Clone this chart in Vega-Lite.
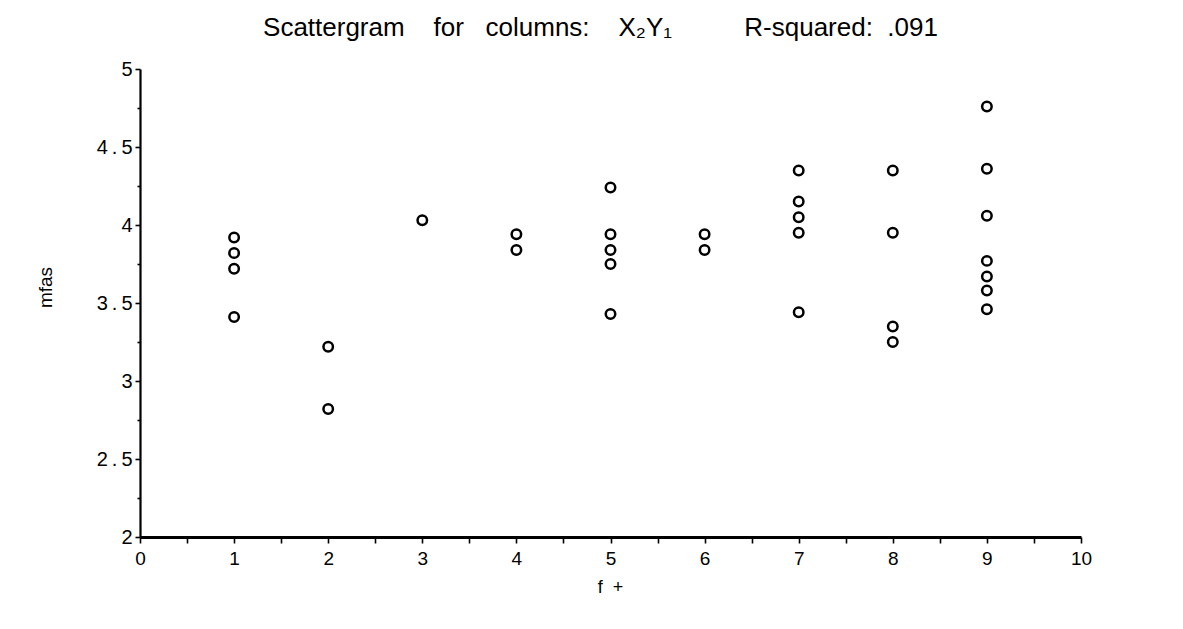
{
  "$schema": "https://vega.github.io/schema/vega-lite/v6.json",
  "autosize": "none",
  "width": 941,
  "height": 468,
  "padding": {"left": 140, "top": 69, "right": 102, "bottom": 92},
  "background": "white",
  "config": {
    "view": {"stroke": null},
    "font": "Liberation Sans"
  },
  "title": {
    "text": "Scattergram\u00a0\u00a0\u00a0\u00a0for\u00a0\u00a0\u00a0columns:\u00a0\u00a0\u00a0\u00a0X₂Y₁\u00a0\u00a0\u00a0\u00a0\u00a0\u00a0\u00a0\u00a0\u00a0\u00a0R-squared:\u00a0\u00a0.091",
    "font": "Liberation Sans",
    "fontSize": 26,
    "fontWeight": "normal",
    "color": "black",
    "anchor": "middle",
    "frame": "group",
    "dx": -10,
    "offset": 18
  },
  "data": {
    "values": [
      {"f": 1, "mfas": 3.92}, {"f": 1, "mfas": 3.82}, {"f": 1, "mfas": 3.72}, {"f": 1, "mfas": 3.41},
      {"f": 2, "mfas": 3.22}, {"f": 2, "mfas": 2.82},
      {"f": 3, "mfas": 4.03},
      {"f": 4, "mfas": 3.94}, {"f": 4, "mfas": 3.84},
      {"f": 5, "mfas": 4.24}, {"f": 5, "mfas": 3.94}, {"f": 5, "mfas": 3.84}, {"f": 5, "mfas": 3.75}, {"f": 5, "mfas": 3.43},
      {"f": 6, "mfas": 3.94}, {"f": 6, "mfas": 3.84},
      {"f": 7, "mfas": 4.35}, {"f": 7, "mfas": 4.15}, {"f": 7, "mfas": 4.05}, {"f": 7, "mfas": 3.95}, {"f": 7, "mfas": 3.44},
      {"f": 8, "mfas": 4.35}, {"f": 8, "mfas": 3.95}, {"f": 8, "mfas": 3.35}, {"f": 8, "mfas": 3.25},
      {"f": 9, "mfas": 4.76}, {"f": 9, "mfas": 4.36}, {"f": 9, "mfas": 4.06}, {"f": 9, "mfas": 3.77}, {"f": 9, "mfas": 3.67}, {"f": 9, "mfas": 3.58}, {"f": 9, "mfas": 3.46}
    ]
  },
  "mark": {"type": "point", "shape": "circle", "filled": false, "stroke": "black", "strokeWidth": 2.5, "size": 90, "opacity": 1},
  "encoding": {
    "x": {
      "field": "f",
      "type": "quantitative",
      "scale": {"domain": [0, 10], "nice": false, "zero": false},
      "axis": {
        "title": "f\u00a0\u00a0+",
        "titleFont": "Liberation Sans",
        "titleFontSize": 18,
        "titleFontWeight": "normal",
        "titleColor": "black",
        "titleX": 470,
        "titleY": 50,
        "titleBaseline": "middle",
        "titleAlign": "center",
        "values": [0, 0.5, 1, 1.5, 2, 2.5, 3, 3.5, 4, 4.5, 5, 5.5, 6, 6.5, 7, 7.5, 8, 8.5, 9, 9.5, 10],
        "labelExpr": "datum.value % 1 == 0 ? format(datum.value, 'd') : ''",
        "labelFont": "Liberation Sans",
        "labelFontSize": 19,
        "labelColor": "black",
        "labelPadding": 6,
        "labelFlush": false,
        "labelOverlap": false,
        "grid": false,
        "domainColor": "black",
        "domainWidth": 3,
        "tickColor": "black",
        "tickWidth": 1.6,
        "tickSize": 6
      }
    },
    "y": {
      "field": "mfas",
      "type": "quantitative",
      "scale": {"domain": [2, 5], "nice": false, "zero": false},
      "axis": {
        "title": "mfas",
        "titleFont": "Liberation Sans",
        "titleFontSize": 19,
        "titleFontWeight": "normal",
        "titleColor": "black",
        "titleAngle": -90,
        "titleX": -95,
        "titleY": 218,
        "titleBaseline": "middle",
        "titleAlign": "center",
        "values": [2, 2.25, 2.5, 2.75, 3, 3.25, 3.5, 3.75, 4, 4.25, 4.5, 4.75, 5],
        "labelExpr": "(datum.value * 2) % 1 == 0 ? replace(datum.label, '.', '\u2009.\u2009') : ''",
        "format": "~g",
        "labelFont": "Liberation Sans",
        "labelFontSize": 20,
        "labelColor": "black",
        "labelPadding": 3,
        "labelFlush": false,
        "labelOverlap": false,
        "grid": false,
        "domainColor": "black",
        "domainWidth": 2.2,
        "tickColor": "black",
        "tickWidth": 1.6,
        "tickSize": {"condition": {"test": "(datum.value * 2) % 1 == 0", "value": 5}, "value": 3}
      }
    }
  }
}
